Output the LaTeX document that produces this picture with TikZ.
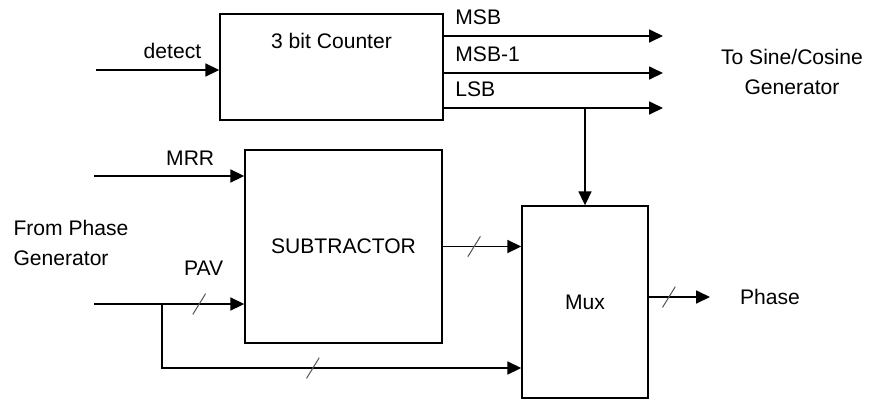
\documentclass[tikz,border=0pt]{standalone}
\usepackage{fontspec}
\setmainfont{Liberation Sans}
\usetikzlibrary{arrows.meta, positioning, calc}

\begin{document}
\begin{tikzpicture}[
    x=0.02cm, y=-0.02cm,
    font=\fontsize{12}{17}\selectfont,
    block/.style={draw, rectangle, line width=0.8pt, inner sep=0pt},
    wire/.style={line width=1pt, -{Triangle[length=0.28cm, width=0.26cm]}},
    busmark/.style={inner sep=0pt, minimum width=0.26cm, minimum height=0.42cm,
      path picture={\draw[-, line width=0.6pt, gray!70!black]
        (path picture bounding box.south west) -- (path picture bounding box.north east);}}
]
\useasboundingbox (0,0) rectangle (886,400);

\node[block, minimum width=4.46cm, minimum height=2.12cm,
  label={[anchor=center, yshift=-0.56cm]north:3 bit Counter}] (counter) at (331.5,67) {};
\node[block, minimum width=3.94cm, minimum height=3.86cm] (sub) at (343.5,246.5) {SUBTRACTOR};
\node[block, minimum width=2.52cm, minimum height=3.84cm] (mux) at (585,302) {Mux};

\node[align=left] (phasegen) at (71,243) {From Phase\\Generator};
\node[align=center] (sincos) at (792,72) {To Sine/Cosine\\Generator};
\node (phase) at (770,297) {Phase};

\coordinate (detin) at (96,70);
\coordinate (mrrin) at (94,176);
\coordinate (pavin) at (94,304);
\coordinate (tap) at (162,304);
\coordinate (lowrow) at (162,368);
\coordinate (msbout) at (663,36);
\coordinate (msbiout) at (663,73);
\coordinate (lsbout) at (663,108);
\coordinate (phaseout) at (710,297);

\draw[wire] (detin) -- node[above, pos=0.62, yshift=0.1cm] {detect} (detin -| counter.west);
\draw[wire] (msbout -| counter.east) -- node[above right, pos=0, xshift=0.1cm, yshift=0.1cm] {MSB} (msbout);
\draw[wire] (msbiout -| counter.east) -- node[above right, pos=0, xshift=0.1cm, yshift=0.1cm] {MSB-1} (msbiout);
\draw[wire] (lsbout -| counter.east) -- node[above right, pos=0, xshift=0.1cm, yshift=0.1cm] {LSB} (lsbout);
\draw[wire] (lsbout -| mux.north) -- (mux.north);

\draw[wire] (mrrin) -- node[above, pos=0.64, yshift=0.08cm] {MRR} (mrrin -| sub.west);
\draw[wire] (pavin) -- node[busmark, pos=0.7] {} node[above=0.44cm, pos=0.73] {PAV} (pavin -| sub.west);
\draw[wire] (tap) -- (lowrow) -- node[busmark, pos=0.42] {} (lowrow -| mux.west);
\draw[wire] (sub.east) -- node[busmark, pos=0.4] {} (sub.east -| mux.west);
\draw[wire] (phaseout -| mux.east) -- node[busmark, pos=0.33] {} (phaseout);
\end{tikzpicture}
\end{document}
